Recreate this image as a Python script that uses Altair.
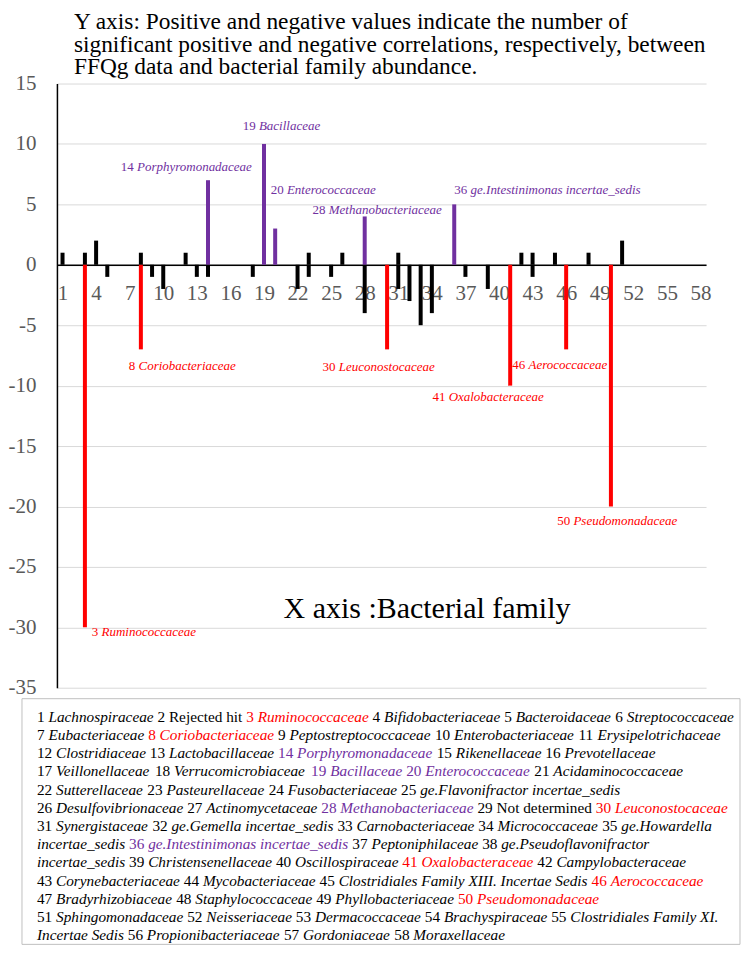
import altair as alt
import pandas as pd

# ---------------- data ----------------
FAMILY_NAMES = [
    "Lachnospiraceae", "Rejected hit", "Ruminococcaceae", "Bifidobacteriaceae", "Bacteroidaceae",
    "Streptococcaceae", "Eubacteriaceae", "Coriobacteriaceae", "Peptostreptococcaceae", "Enterobacteriaceae",
    "Erysipelotrichaceae", "Clostridiaceae", "Lactobacillaceae", "Porphyromonadaceae", "Rikenellaceae",
    "Prevotellaceae", "Veillonellaceae", "Verrucomicrobiaceae", "Bacillaceae", "Enterococcaceae",
    "Acidaminococcaceae", "Sutterellaceae", "Pasteurellaceae", "Fusobacteriaceae", "ge.Flavonifractor incertae_sedis",
    "Desulfovibrionaceae", "Actinomycetaceae", "Methanobacteriaceae", "Not determined", "Leuconostocaceae",
    "Synergistaceae", "ge.Gemella incertae_sedis", "Carnobacteriaceae", "Micrococcaceae", "ge.Howardella incertae_sedis",
    "ge.Intestinimonas incertae_sedis", "Peptoniphilaceae", "ge.Pseudoflavonifractor incertae_sedis", "Christensenellaceae", "Oscillospiraceae",
    "Oxalobacteraceae", "Campylobacteraceae", "Corynebacteriaceae", "Mycobacteriaceae", "Clostridiales Family XIII. Incertae Sedis",
    "Aerococcaceae", "Bradyrhizobiaceae", "Staphylococcaceae", "Phyllobacteriaceae", "Pseudomonadaceae",
    "Sphingomonadaceae", "Neisseriaceae", "Dermacoccaceae", "Brachyspiraceae", "Clostridiales Family XI. Incertae Sedis",
    "Propionibacteriaceae", "Gordoniaceae", "Moraxellaceae",
]
UPRIGHT_NAMES = [2, 29]

POS_COUNTS = [1, 0, 1, 2, 0, 0, 0, 1, 0, 0,
              0, 1, 0, 7, 0, 0, 0, 0, 10, 3,
              0, 0, 1, 0, 0, 1, 0, 4, 0, 0,
              1, 0, 0, 0, 0, 5, 0, 0, 0, 0,
              0, 1, 1, 0, 1, 0, 0, 1, 0, 0,
              2, 0, 0, 0, 0, 0, 0, 0]
NEG_COUNTS = [0, 0, -30, 0, -1, 0, 0, -7, -1, -2,
              0, 0, -1, -1, 0, 0, 0, -1, 0, 0,
              0, -2, -1, 0, -1, 0, 0, -4, 0, -7,
              -2, -3, -5, -4, 0, 0, -1, 0, -2, 0,
              -10, 0, -1, 0, 0, -7, 0, 0, 0, -20,
              0, 0, 0, 0, 0, 0, 0, 0]

RED_FAMILIES = [3, 8, 30, 41, 46, 50]
PURPLE_FAMILIES = [14, 19, 20, 28, 36]

X_TICKS = [1, 4, 7, 10, 13, 16, 19, 22, 25, 28, 31, 34, 37, 40, 43, 46, 49, 52, 55, 58]
Y_TICKS = [15, 10, 5, 0, -5, -10, -15, -20, -25, -30, -35]

LABEL_FAMILIES = [3, 8, 14, 19, 20, 28, 30, 36, 41, 46, 50]
LABEL_X = [3.62, 6.92, 6.21, 17.10, 19.60, 23.34, 24.24, 36.01, 34.05, 41.19, 45.20]
LABEL_Y = [-30.4, -8.39, 8.06, 11.45, 6.16, 4.50, -8.47, 6.16, -10.95, -8.31, -21.2]

TITLE_LINES = [
    "Y axis: Positive and negative values indicate the number of",
    "significant positive and negative correlations, respectively, between",
    "FFQg data and bacterial family abundance.",
]
X_TITLE = "X axis :Bacterial family"

SPLIT_NAMES = {35: ("ge.Howardella", "incertae_sedis"),
               38: ("ge.Pseudoflavonifractor", "incertae_sedis"),
               55: ("Clostridiales Family XI.", "Incertae Sedis")}
LEGEND_LINES = [
    [1, 2, 3, 4, 5, 6],
    [7, 8, 9, 10, 11],
    [12, 13, 14, 15, 16],
    [17, 18, 19, 20, 21],
    [22, 23, 24, 25],
    [26, 27, 28, 29, 30],
    [31, 32, 33, 34, "35a"],
    ["35b", 36, 37, "38a"],
    ["38b", 39, 40, 41, 42],
    [43, 44, 45, 46],
    [47, 48, 49, 50],
    [51, 52, 53, 54, "55a"],
    ["55b", 56, 57, 58],
]

# ---------------- styling / layout ----------------
FONT = "Liberation Serif"
BLACK, RED, PURPLE = "#000000", "#FF0000", "#7030A0"
W, H = 650, 605
X_DOMAIN = [0.5, 58.5]
Y_DOMAIN = [-35, 15]
ZERO_PX = H * Y_DOMAIN[1] / (Y_DOMAIN[1] - Y_DOMAIN[0])
UX = W / (X_DOMAIN[1] - X_DOMAIN[0])   # pixels per x unit
UY = H / (Y_DOMAIN[1] - Y_DOMAIN[0])   # pixels per y unit


def dx_from_px(px):
    """plot-relative pixel -> x data unit (for annotation text placement)"""
    return X_DOMAIN[0] + px / UX


def dy_from_px(py):
    return Y_DOMAIN[1] - py / UY


# Times / Liberation Serif advance widths (per 1000 em)
_LOW = "abcdefghijklmnopqrstuvwxyz"
_CAP = "ABCDEFGHIJKLMNOPQRSTUVWXYZ"
_UP = dict(zip(_LOW, [444, 500, 444, 500, 444, 333, 500, 500, 278, 278, 500, 278, 778, 500, 500, 500, 500, 333, 389, 278, 500, 500, 722, 500, 500, 444]))
_UP.update(zip(_CAP, [722, 667, 667, 722, 611, 556, 722, 722, 333, 389, 722, 611, 889, 722, 722, 556, 722, 667, 556, 611, 722, 722, 944, 722, 722, 611]))
_IT = dict(zip(_LOW, [500, 500, 444, 500, 444, 278, 500, 500, 278, 278, 444, 278, 722, 500, 500, 500, 500, 389, 389, 278, 500, 444, 667, 444, 444, 389]))
_IT.update(zip(_CAP, [611, 611, 667, 722, 611, 611, 722, 722, 333, 444, 667, 556, 833, 667, 722, 611, 722, 611, 500, 556, 722, 611, 833, 611, 556, 556]))
for d in (_UP, _IT):
    d.update({" ": 250, ".": 250, ",": 250, ":": 278, "_": 500, "-": 333})


def text_w(s, italic, size):
    table = _IT if italic else _UP
    return sum(table.get(ch, 500) for ch in s) * size / 1000.0


def fam_color(fam):
    if fam in RED_FAMILIES:
        return RED
    if fam in PURPLE_FAMILIES:
        return PURPLE
    return BLACK


# ---------------- scales / axes (shared by all layers) ----------------
xscale = alt.Scale(domain=X_DOMAIN, nice=False, zero=False, padding=0)
yscale = alt.Scale(domain=Y_DOMAIN, nice=False, padding=0)
XAXIS = alt.Axis(values=X_TICKS, offset=-(H - ZERO_PX), ticks=False, tickSize=0, grid=False,
                 labelPadding=18, labelFont=FONT, labelFontSize=21, labelColor="#595959",
                 domainColor=BLACK, domainWidth=1.5, title=None, labelFlush=False,
                 labelOverlap=False, labelBound=False, labelExpr="'' + datum.value")
YAXIS = alt.Axis(values=Y_TICKS, ticks=False, tickSize=0, grid=True, gridColor="#d9d9d9",
                 gridWidth=1, labelPadding=21, labelFont=FONT, labelFontSize=21,
                 labelColor="#595959", domainColor=BLACK, domainWidth=1.5, title=None,
                 labelFlush=False, labelOverlap=False, labelBound=False, labelExpr="'' + datum.value")

# ---------------- bars ----------------
bar_rows = []
for i in range(58):
    fam = i + 1
    if POS_COUNTS[i]:
        bar_rows.append({"family": fam, "value": POS_COUNTS[i],
                         "color": PURPLE if fam in PURPLE_FAMILIES else BLACK})
    if NEG_COUNTS[i]:
        bar_rows.append({"family": fam, "value": NEG_COUNTS[i],
                         "color": RED if fam in RED_FAMILIES else BLACK})
bars_df = pd.DataFrame(bar_rows)

bars = alt.Chart(bars_df).mark_bar(size=4).encode(
    x=alt.X("family:Q", scale=xscale, axis=XAXIS),
    y=alt.Y("value:Q", scale=yscale, stack=None, axis=YAXIS),
    color=alt.Color("color:N", scale=None),
)

# ---------------- bar labels ----------------
LABEL_SIZE = 13
lbl_rows = []
for fam, lx, ly in zip(LABEL_FAMILIES, LABEL_X, LABEL_Y):
    num = str(fam)
    lbl_rows.append({"x": lx, "y": ly, "num": num, "name": FAMILY_NAMES[fam - 1],
                     "name_x": lx + text_w(num + " ", False, LABEL_SIZE) / UX,
                     "color": fam_color(fam)})
lbl_df = pd.DataFrame(lbl_rows)

lbl_num = alt.Chart(lbl_df).mark_text(align="left", baseline="middle", font=FONT, fontSize=LABEL_SIZE).encode(
    x=alt.X("x:Q", scale=xscale, axis=XAXIS), y=alt.Y("y:Q", scale=yscale, axis=YAXIS),
    text="num:N", color=alt.Color("color:N", scale=None))
lbl_name = alt.Chart(lbl_df).mark_text(align="left", baseline="middle", font=FONT, fontSize=LABEL_SIZE,
                                       fontStyle="italic").encode(
    x=alt.X("name_x:Q", scale=xscale, axis=XAXIS), y=alt.Y("y:Q", scale=yscale, axis=YAXIS),
    text="name:N", color=alt.Color("color:N", scale=None))

# ---------------- legend (family key) ----------------
LEG_SIZE = 15.3
LEG_X0 = -20          # plot-relative pixels
LEG_Y0 = 634
LEG_DY = 18.25
seg_rows = []
for li, line in enumerate(LEGEND_LINES):
    cx = LEG_X0
    cy = LEG_Y0 + li * LEG_DY
    for item in line:
        if isinstance(item, str):
            fam = int(item[:-1])
            part = SPLIT_NAMES[fam][0 if item.endswith("a") else 1]
            show_num = item.endswith("a")
        else:
            fam = item
            part = FAMILY_NAMES[fam - 1]
            show_num = True
        col = fam_color(fam)
        if show_num:
            seg_rows.append({"lx": dx_from_px(cx), "ly": dy_from_px(cy), "t": str(fam), "color": col, "it": False})
            cx += text_w(str(fam) + " ", False, LEG_SIZE)
        italic = fam not in UPRIGHT_NAMES
        seg_rows.append({"lx": dx_from_px(cx), "ly": dy_from_px(cy), "t": part, "color": col, "it": italic})
        cx += text_w(part + " ", italic, LEG_SIZE)
seg_df = pd.DataFrame(seg_rows)

leg_up = alt.Chart(seg_df[~seg_df["it"]]).mark_text(align="left", baseline="middle", font=FONT,
                                                    fontSize=LEG_SIZE).encode(
    x=alt.X("lx:Q", scale=xscale, axis=XAXIS), y=alt.Y("ly:Q", scale=yscale, axis=YAXIS),
    text="t:N", color=alt.Color("color:N", scale=None))
leg_it = alt.Chart(seg_df[seg_df["it"]]).mark_text(align="left", baseline="middle", font=FONT,
                                                   fontSize=LEG_SIZE, fontStyle="italic").encode(
    x=alt.X("lx:Q", scale=xscale, axis=XAXIS), y=alt.Y("ly:Q", scale=yscale, axis=YAXIS),
    text="t:N", color=alt.Color("color:N", scale=None))

leg_box = alt.Chart(pd.DataFrame({"k": [0]})).mark_rect(fillOpacity=0, stroke="#c0c0c0", strokeWidth=1).encode(
    x=alt.value(-35), x2=alt.value(684), y=alt.value(616), y2=alt.value(862))

# ---------------- titles ----------------
title_df = pd.DataFrame({"t": TITLE_LINES,
                         "tx": [dx_from_px(17)] * 3,
                         "ty": [dy_from_px(v) for v in (-54.5, -32, -9.5)]})
titles = alt.Chart(title_df).mark_text(align="left", baseline="alphabetic", font=FONT, fontSize=23.4,
                                       color=BLACK).encode(
    x=alt.X("tx:Q", scale=xscale, axis=XAXIS), y=alt.Y("ty:Q", scale=yscale, axis=YAXIS), text="t:N")

xtitle = alt.Chart(pd.DataFrame({"t": [X_TITLE]})).mark_text(
    align="left", baseline="alphabetic", font=FONT, fontSize=30, color=BLACK).encode(
    x=alt.value(227), y=alt.value(535), text="t:N")

chart = alt.layer(bars, lbl_num, lbl_name, leg_box, leg_up, leg_it, titles, xtitle).properties(
    width=W, height=H,
    autosize=alt.AutoSizeParams(type="none"),
    padding={"left": 49, "top": 75, "right": 35, "bottom": 259},
).configure_view(stroke=None).configure_axis(labelOverlap=False)

chart.save("out.html", embed_options={"renderer": "svg", "actions": False})
